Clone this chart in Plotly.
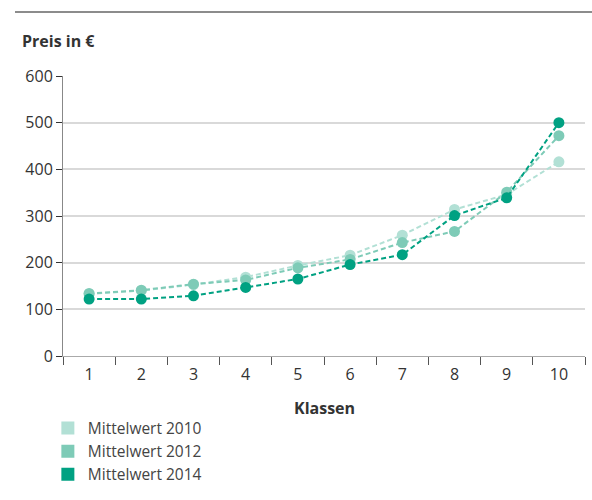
import plotly.graph_objects as go

klassen = ["1", "2", "3", "4", "5", "6", "7", "8", "9", "10"]
mittel_2010 = [133, 140, 153, 169, 194, 216, 259, 314, 346, 416]
mittel_2012 = [134, 141, 154, 163, 189, 207, 243, 267, 351, 472]
mittel_2014 = [122, 122, 129, 147, 165, 196, 217, 301, 339, 500]
y_ticks = [0, 100, 200, 300, 400, 500, 600]

series = [
    ("Mittelwert 2010", mittel_2010, "#b2e0d5"),
    ("Mittelwert 2012", mittel_2012, "#7ecbb7"),
    ("Mittelwert 2014", mittel_2014, "#00a182"),
]

FONT = "Open Sans"
TEXT = "#333333"

fig = go.Figure()
for name, values, color in series:
    fig.add_trace(go.Scatter(
        x=klassen, y=values, name=name, mode="lines+markers",
        line=dict(color=color, width=2, dash="5px,3px"),
        marker=dict(color=color, size=11),
        showlegend=False, cliponaxis=False,
    ))
# legend entries as plain squares
for name, values, color in series:
    fig.add_trace(go.Scatter(
        x=[None], y=[None], name=name, mode="markers",
        marker=dict(color=color, size=13, symbol="square"),
        showlegend=True,
    ))

fig.update_layout(
    width=592, height=500,
    margin=dict(l=63, r=7, t=76, b=144, autoexpand=False),
    paper_bgcolor="white", plot_bgcolor="white",
    font=dict(family=FONT, size=14, color=TEXT),
    xaxis=dict(
        type="category", range=[-0.5, 9.5], tickson="boundaries",
        ticks="outside", ticklen=8, tickcolor="#555555", tickwidth=1,
        showline=True, linecolor="#aaaaaa", linewidth=1,
        showgrid=False, zeroline=False, automargin=False,
        ticklabelstandoff=4,
        tickfont=dict(size=16, color=TEXT),
    ),
    yaxis=dict(
        range=[0, 600], tickvals=y_ticks, automargin=False,
        ticks="outside", ticklen=6, tickcolor="#333333", tickwidth=1,
        showline=True, linecolor="#888888", linewidth=1,
        showgrid=True, gridcolor="#d9d9d9", gridwidth=1.5,
        zeroline=False,
        tickfont=dict(size=16, color=TEXT),
    ),
    legend=dict(
        x=-0.029, xanchor="left", y=-0.198, yanchor="top",
        font=dict(size=15.5, color="#444444"),
        itemwidth=30, tracegroupgap=0, bgcolor="rgba(0,0,0,0)",
    ),
    shapes=[dict(
        type="line", xref="paper", yref="paper",
        x0=-0.092, x1=1.02, y0=1.2286, y1=1.2286,
        line=dict(color="#666666", width=1.5),
    )],
    annotations=[
        dict(
            text="<b>Preis in €</b>", xref="paper", yref="paper",
            x=-0.082, y=1.125, xanchor="left", yanchor="middle",
            showarrow=False, font=dict(size=16, color=TEXT),
        ),
        dict(
            text="<b>Klassen</b>", xref="paper", yref="paper",
            x=0.5, y=-0.186, xanchor="center", yanchor="middle",
            showarrow=False, font=dict(size=16, color=TEXT),
        ),
    ],
)

fig.write_html("out.html")
